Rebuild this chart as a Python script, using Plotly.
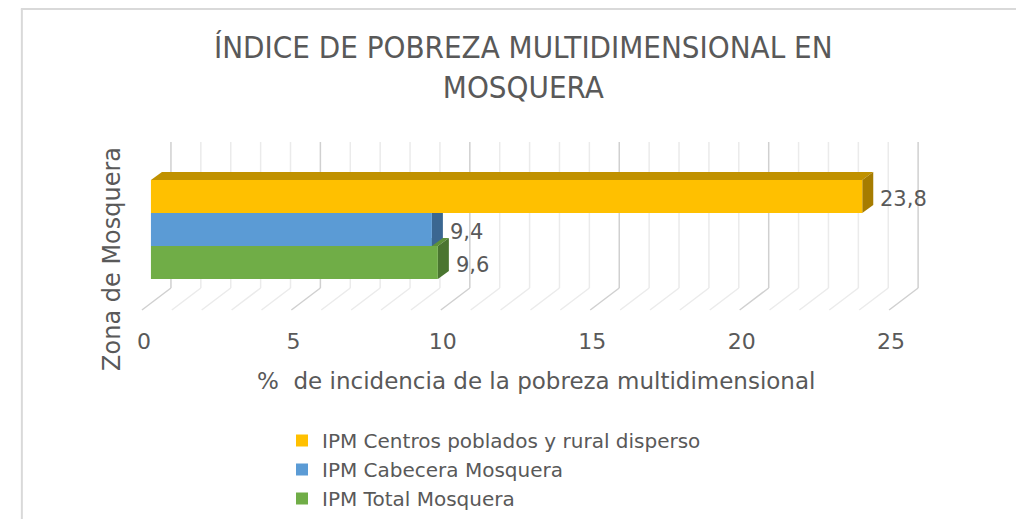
import plotly.graph_objects as go

# ---- data ----
series_names = ["IPM Total Mosquera", "IPM Cabecera Mosquera", "IPM Centros poblados y rural disperso"]
values = [9.6, 9.4, 23.8]
front_colors = ["#70AD47", "#5B9BD5", "#FFC000"]
top_colors = ["#5E9139", "#4C84B5", "#C09100"]
side_colors = ["#4A7530", "#3B6791", "#A67C00"]
x_ticks = [0, 5, 10, 15, 20, 25]
title_text = "ÍNDICE DE POBREZA MULTIDIMENSIONAL EN<br>MOSQUERA"
x_title = "%  de incidencia de la pobreza multidimensional"
y_title = "Zona de Mosquera"

# ---- geometry (screen pixels of the reference; page body has an 8px margin) ----
OFF = 8
W, H = 1024 - OFF, 519 - OFF
PX_PER_UNIT = 29.87
X0_PX = 151.0 - OFF
XMIN, XMAX = -0.5, 26.0
L = X0_PX + XMIN * PX_PER_UNIT
R = X0_PX + XMAX * PX_PER_UNIT
TOP, BOT = 142.0 - OFF, 310.0 - OFF
PH = BOT - TOP
CENTER_PX = 229.5 - OFF
y_hi = (CENTER_PX - TOP) / PH
y_lo = y_hi - 1.0
BAR_PX = 33.0
n = len(values)
gw = n * BAR_PX / PH
bargap = 1 - gw
bw = gw / n
dx = 11 / PX_PER_UNIT
dy = 8 / PH

TEXT = "#595959"
FONT = "DejaVu Sans"

def px_to_paper_x(px):
    return (px - OFF - L) / (R - L)

def px_to_paper_y(py):
    return (BOT - (py - OFF)) / PH

fig = go.Figure()
for name, v, c in zip(series_names, values, front_colors):
    fig.add_trace(go.Bar(
        y=[0], x=[v], name=name, orientation="h",
        marker=dict(color=c, line=dict(width=0)),
        hoverinfo="x+name",
    ))

shapes = []
# back wall + floor gridlines
back_off = 20 / PX_PER_UNIT
front_off = -9 / PX_PER_UNIT
wall_bottom = (BOT - (288 - OFF)) / PH
for k in range(0, 26):
    col = "#D0D0D0" if k % 5 == 0 else "#EBEBEB"
    xb = k + back_off
    xf = k + front_off
    shapes.append(dict(type="line", xref="x", yref="y domain", x0=xb, x1=xb, y0=wall_bottom, y1=1,
                       line=dict(color=col, width=1.5), layer="below"))
    shapes.append(dict(type="line", xref="x", yref="y domain", x0=xb, x1=xf, y0=wall_bottom, y1=0,
                       line=dict(color=col, width=1.5), layer="below"))

# 3D depth faces for bars (computed from values)
for i, v in enumerate(values):
    yb = -gw / 2 + i * bw
    yt = yb + bw
    top_path = f"M0,{yt} L{dx},{yt+dy} L{v+dx},{yt+dy} L{v},{yt} Z"
    side_path = f"M{v},{yb} L{v+dx},{yb+dy} L{v+dx},{yt+dy} L{v},{yt} Z"
    shapes.append(dict(type="path", xref="x", yref="y", path=top_path,
                       fillcolor=top_colors[i], line=dict(width=0), layer="below"))
    shapes.append(dict(type="path", xref="x", yref="y", path=side_path,
                       fillcolor=side_colors[i], line=dict(width=0), layer="below"))

# chart border (left and top edges)
shapes.append(dict(type="line", xref="paper", yref="paper",
                   x0=px_to_paper_x(22), x1=px_to_paper_x(22),
                   y0=px_to_paper_y(9), y1=px_to_paper_y(530),
                   line=dict(color="#D9D9D9", width=2)))
shapes.append(dict(type="line", xref="paper", yref="paper",
                   x0=px_to_paper_x(21), x1=px_to_paper_x(1040),
                   y0=px_to_paper_y(9), y1=px_to_paper_y(9),
                   line=dict(color="#D9D9D9", width=2)))

annotations = []
for i, v in enumerate(values):
    yc = -gw / 2 + (i + 0.5) * bw
    annotations.append(dict(x=v, y=yc, xref="x", yref="y", text=f"{v:.1f}".replace(".", ","),
                            showarrow=False, xanchor="left", yanchor="middle", xshift=16, yshift=-2,
                            font=dict(family=FONT, size=21, color=TEXT)))

annotations.append(dict(x=px_to_paper_x(523), y=px_to_paper_y(67), xref="paper", yref="paper",
                        text=title_text, showarrow=False, xanchor="center", yanchor="middle",
                        font=dict(family="Liberation Sans Narrow, DejaVu Sans Condensed, Arial Narrow",
                                  size=31, color=TEXT)))
annotations.append(dict(x=px_to_paper_x(536), y=px_to_paper_y(381), xref="paper", yref="paper",
                        text=x_title, showarrow=False, xanchor="center", yanchor="middle",
                        font=dict(family=FONT, size=23, color=TEXT)))
annotations.append(dict(x=px_to_paper_x(112), y=px_to_paper_y(259), xref="paper", yref="paper",
                        text=y_title, showarrow=False, xanchor="center", yanchor="middle", textangle=-90,
                        font=dict(family=FONT, size=24, color=TEXT)))

fig.update_layout(
    width=W, height=H,
    margin=dict(l=L, r=W - R, t=TOP, b=H - BOT, pad=0, autoexpand=False),
    paper_bgcolor="white", plot_bgcolor="white",
    barmode="group", bargap=bargap, bargroupgap=0,
    showlegend=True,
    legend=dict(traceorder="reversed", x=px_to_paper_x(282), y=px_to_paper_y(421),
                xanchor="left", yanchor="top", font=dict(family=FONT, size=20, color=TEXT),
                itemsizing="constant", itemwidth=30, tracegroupgap=0, bgcolor="rgba(0,0,0,0)"),
    shapes=shapes,
    annotations=annotations,
    xaxis=dict(range=[XMIN, XMAX], tickvals=x_ticks, ticktext=[str(t) for t in x_ticks],
               showgrid=False, zeroline=False, showline=False, ticks="",
               tickfont=dict(family=FONT, size=22, color=TEXT), automargin=False,
               ticklabelshift=-7, ticklabelstandoff=16),
    yaxis=dict(range=[y_lo, y_hi], showticklabels=False, showgrid=False, zeroline=False,
               showline=False, ticks="", automargin=False),
    separators=",.",
)

fig.write_html("out.html")
